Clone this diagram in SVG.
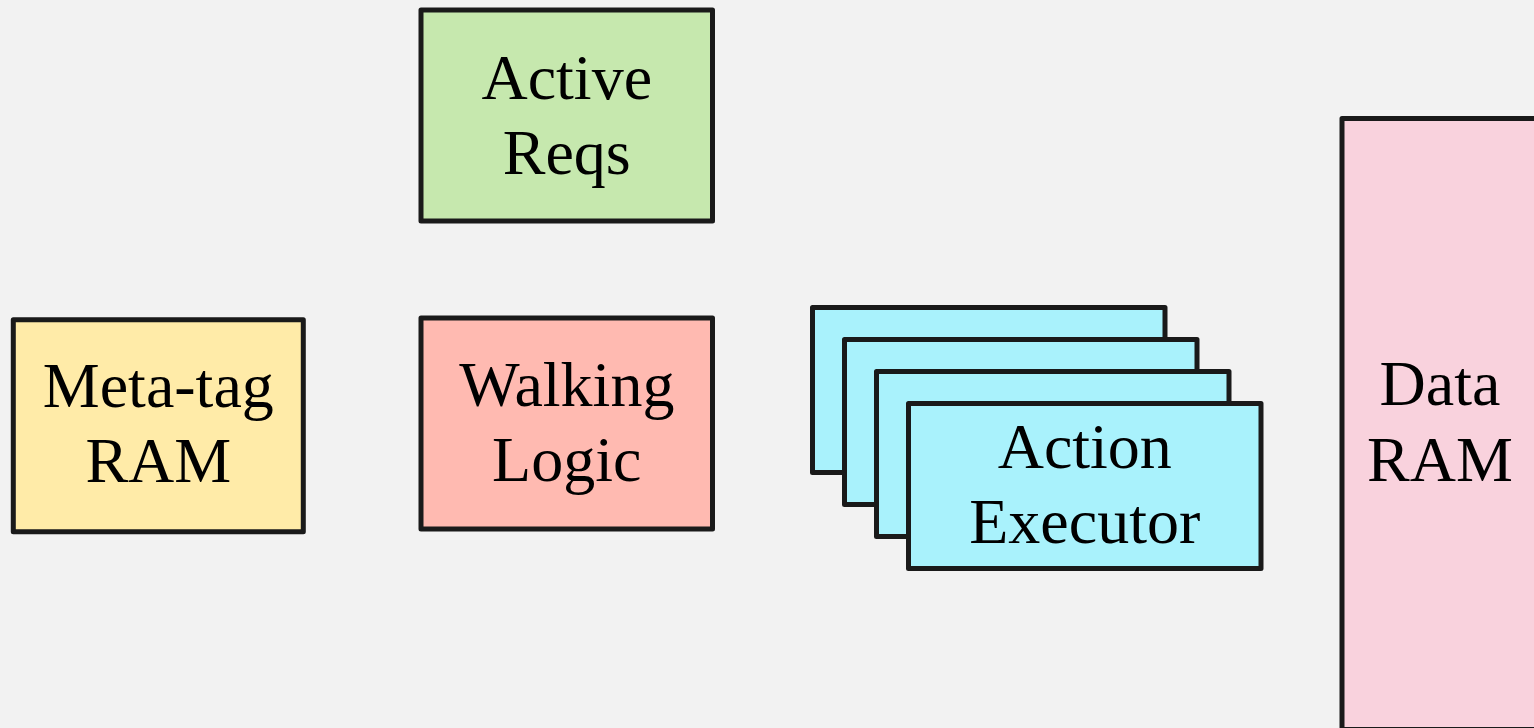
<svg xmlns="http://www.w3.org/2000/svg" width="1534" height="728" viewBox="0 0 1534 728">
<style>
.box{stroke:#1a1a1a;stroke-width:5;stroke-linejoin:round}
.lbl{font-family:"Liberation Serif","Times New Roman",serif;font-size:64px;fill:#000;text-anchor:middle}
</style>
<rect x="0" y="0" width="1534" height="728" fill="#f2f2f2"/>
<g id="active-reqs">
<rect class="box" x="421" y="10" width="291.5" height="211" fill="#c6e8ae"/>
<text class="lbl" x="566.75" y="98.5">Active</text>
<text class="lbl" x="566.75" y="173.5">Reqs</text>
</g>
<g id="meta-tag-ram">
<rect class="box" x="13.3" y="319.7" width="290" height="212" fill="#ffeba8"/>
<text class="lbl" x="158.3" y="406.7">Meta-tag</text>
<text class="lbl" x="158.3" y="481.7">RAM</text>
</g>
<g id="walking-logic">
<rect class="box" x="421" y="318" width="291.5" height="211" fill="#ffbab1"/>
<text class="lbl" x="566.75" y="406">Walking</text>
<text class="lbl" x="566.75" y="480.5">Logic</text>
</g>
<g id="action-executor">
<rect class="box" x="812.5" y="307.5" width="352.5" height="165" fill="#a9f2fc"/>
<rect class="box" x="844.5" y="339.5" width="352.5" height="165" fill="#a9f2fc"/>
<rect class="box" x="876.5" y="371.5" width="352.5" height="165" fill="#a9f2fc"/>
<rect class="box" x="908.5" y="403.5" width="352.5" height="165" fill="#a9f2fc"/>
<text class="lbl" x="1084.75" y="468">Action</text>
<text class="lbl" x="1084.75" y="542.5">Executor</text>
</g>
<g id="data-ram">
<rect class="box" x="1342" y="118.5" width="196" height="611" fill="#f9d2dd"/>
<text class="lbl" x="1440" y="405">Data</text>
<text class="lbl" x="1440" y="481">RAM</text>
</g>
<g id="connectors"></g>
</svg>
